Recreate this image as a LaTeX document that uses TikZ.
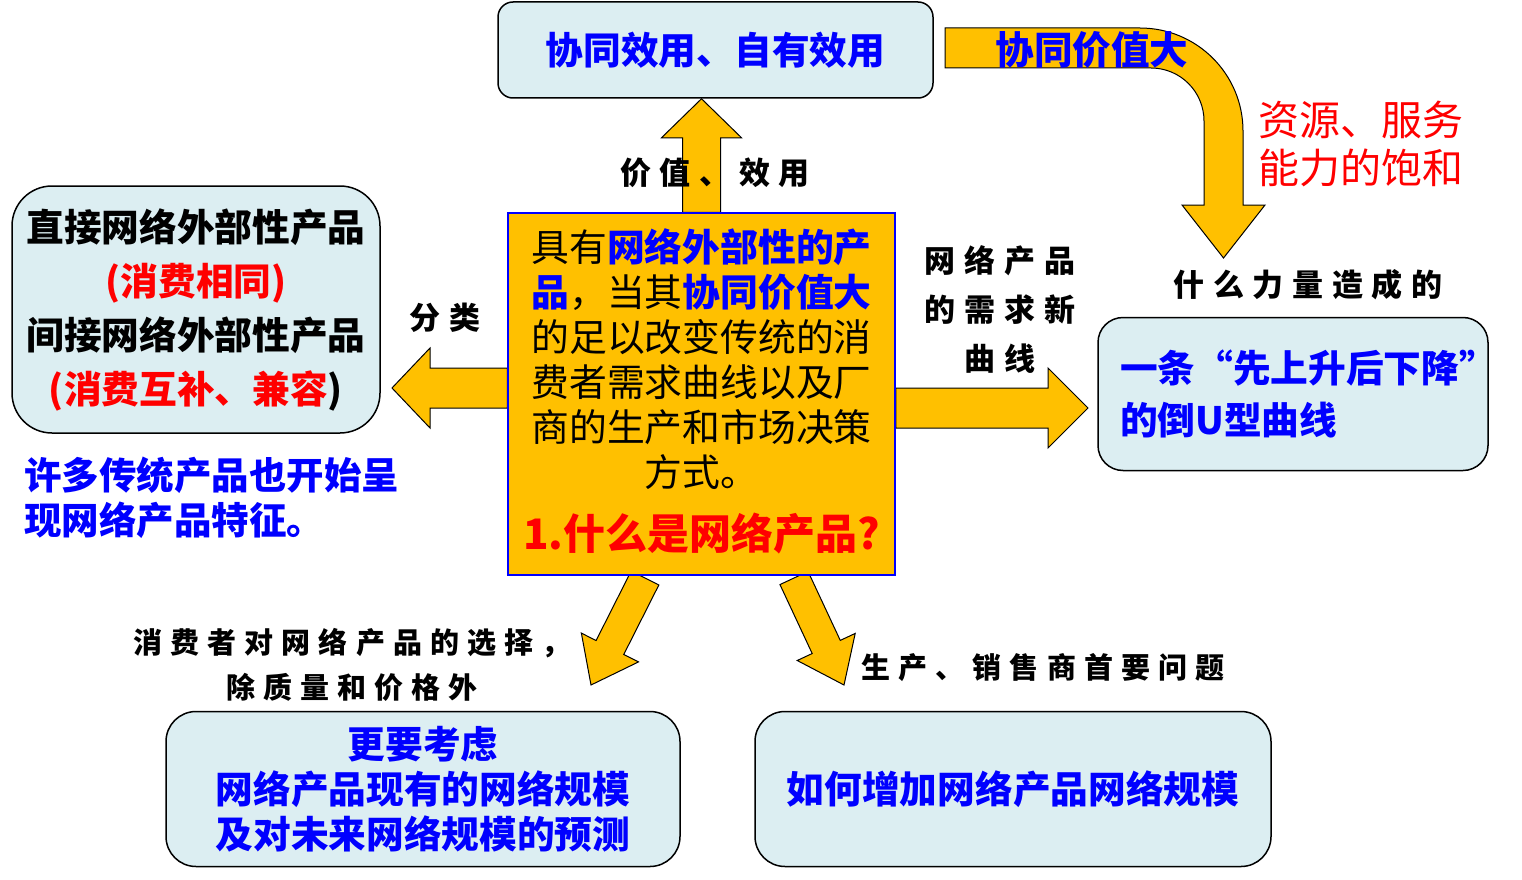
\documentclass[tikz,border=0pt]{standalone}
\usepackage{fontspec}
\setmainfont{Noto Sans CJK SC}
\newfontfamily\kai{Noto Sans CJK SC}[LetterSpace=28]
\usepackage{tikz}
\usetikzlibrary{calc}
\definecolor{arrowgold}{RGB}{255,192,0}
\definecolor{paleblue}{RGB}{220,238,242}
\definecolor{textblue}{RGB}{0,0,255}
\definecolor{textred}{RGB}{255,0,0}
\pgfdeclarelayer{bg}
\pgfsetlayers{bg,main}
\newcommand\bluebf[1]{\textbf{\textcolor{textblue}{#1}}}
\newcommand\fatarrow[5]{%
  \coordinate (fa-h) at ($(#2)!#5!(#1)$);
  \draw[fatfill] ($(#1)!#3!90:(#2)$) -- ($(fa-h)!#3!90:(#2)$) -- ($(fa-h)!#4!90:(#2)$) -- (#2)
    -- ($(fa-h)!#4!-90:(#2)$) -- ($(fa-h)!#3!-90:(#2)$) -- ($(#1)!#3!-90:(#2)$) -- cycle;}

\begin{document}
\begin{tikzpicture}[x=1pt, y=-1pt,
        panel/.style={draw=black, line width=1.5pt, fill=paleblue, align=center, text=textblue, font=\bfseries\fontsize{37.7}{45}\selectfont},
        core/.style={draw=textblue, line width=1.5pt, fill=arrowgold, align=center, font=\fontsize{37.8}{45}\selectfont},
        lbl/.style={inner sep=0pt, align=center, font=\kai\bfseries\fontsize{29}{49}\selectfont},
        fatfill/.style={fill=arrowgold, draw=black, line width=1pt, line join=miter}]

        \useasboundingbox (0,0) rectangle (1522,880);

        \node[panel, rounded corners=15pt, minimum width=435, minimum height=96] (value) at (715.5,50) {协同效用、自有效用};
        \node[panel, rounded corners=40pt, minimum width=368, minimum height=247, text=black, font=\bfseries\fontsize{37.7}{54}\selectfont] (cls) at (196,309.5) {直接网络外部性产品\\\textcolor{textred}{(消费相同)}\\间接网络外部性产品\\\textcolor{textred}{(消费互补、兼容}{)}};
        \node[core, minimum width=387, minimum height=362] (core) at (701.5,394) {具有\bluebf{网络外部性的产}\\\bluebf{品}，当其\bluebf{协同价值大}\\的足以改变传统的消\\费者需求曲线以及厂\\商的生产和市场决策\\方式。\\[18pt]\textbf{\textcolor{textred}{\fontsize{42}{45}\selectfont 1.什么是网络产品?}}\rule[-10pt]{0pt}{10pt}};
        \node[panel, rounded corners=25pt, minimum width=390, minimum height=153, inner xsep=22pt, text width=346pt, align=left, font=\bfseries\fontsize{37.7}{52}\selectfont] (curve) at (1293,394) {一条“先上升后下降”\\的倒U型曲线};
        \node[panel, rounded corners=30pt, minimum width=514, minimum height=155] (choice) at (423,789) {更要考虑\\网络产品现有的网络规模\\及对未来网络规模的预测};
        \node[panel, rounded corners=30pt, minimum width=516, minimum height=155] (scale) at (1013,789) {如何增加网络产品网络规模};

        \node[anchor=west, inner sep=0pt, align=left, text=textblue, font=\bfseries\fontsize{37.5}{45}\selectfont] (note) at (24,497.5) {许多传统产品也开始呈\\现网络产品特征。};

        \coordinate (upTip) at (core.north |- value.south);
        \coordinate (clsTip) at (392,388);
        \coordinate (clsTail) at (core.west |- clsTip);
        \coordinate (curveTip) at (1088,408);
        \coordinate (curveTail) at (core.east |- curveTip);
        \coordinate (choiceTail) at (645,578);
        \coordinate (choiceTip) at (591,685);
        \coordinate (scaleTail) at (794,578);
        \coordinate (scaleTip) at (844,685);

        \begin{pgfonlayer}{bg}
        \fatarrow{core.north}{upTip}{19pt}{40pt}{39pt}
        \fatarrow{clsTail}{clsTip}{20pt}{40pt}{38pt}
        \fatarrow{curveTail}{curveTip}{20pt}{40pt}{40pt}
        \fatarrow{choiceTail}{choiceTip}{15.5pt}{32pt}{42pt}
        \fatarrow{scaleTail}{scaleTip}{15.5pt}{32pt}{42pt}
        \end{pgfonlayer}

        \draw[fatfill] (945,28) -- (1140,28) arc[start angle=90, end angle=0, radius=103pt] -- (1243,205) -- (1265,205) -- (1223.5,258) -- (1182,205) -- (1204,205) -- (1204,121) arc[start angle=0, end angle=90, radius=53pt] -- (945,68) -- cycle;

        \node[inner sep=0pt, text=textblue, font=\bfseries\fontsize{38.6}{45}\selectfont] (satTxt) at (1092,50) {协同价值大};
        \node[anchor=west, inner sep=0pt, align=left, text=textred, font=\fontsize{41}{48}\selectfont] (satLbl) at (1258,144) {资源、服务\\能力的饱和};

        \node[lbl, font=\kai\bfseries\fontsize{31}{49}\selectfont] (valLbl) at (715,173) {价值、效用};
        \node[lbl, font=\kai\bfseries\fontsize{31}{49}\selectfont] (clsLbl) at (445,318) {分类};
        \node[lbl, font=\kai\bfseries\fontsize{31}{49}\selectfont] (curveLbl) at (1000,310) {网络产品\\的需求新\\曲线};
        \node[lbl, font=\kai\bfseries\fontsize{31}{49}\selectfont] (whyLbl) at (1308,285) {什么力量造成的};
        \node[lbl, font=\kai\bfseries\fontsize{29}{45}\selectfont] (choiceLbl) at (352,665) {消费者对网络产品的选择，\\除质量和价格外};
        \node[lbl] (scaleLbl) at (1043,668) {生产、销售商首要问题};

    \end{tikzpicture}
\end{document}
